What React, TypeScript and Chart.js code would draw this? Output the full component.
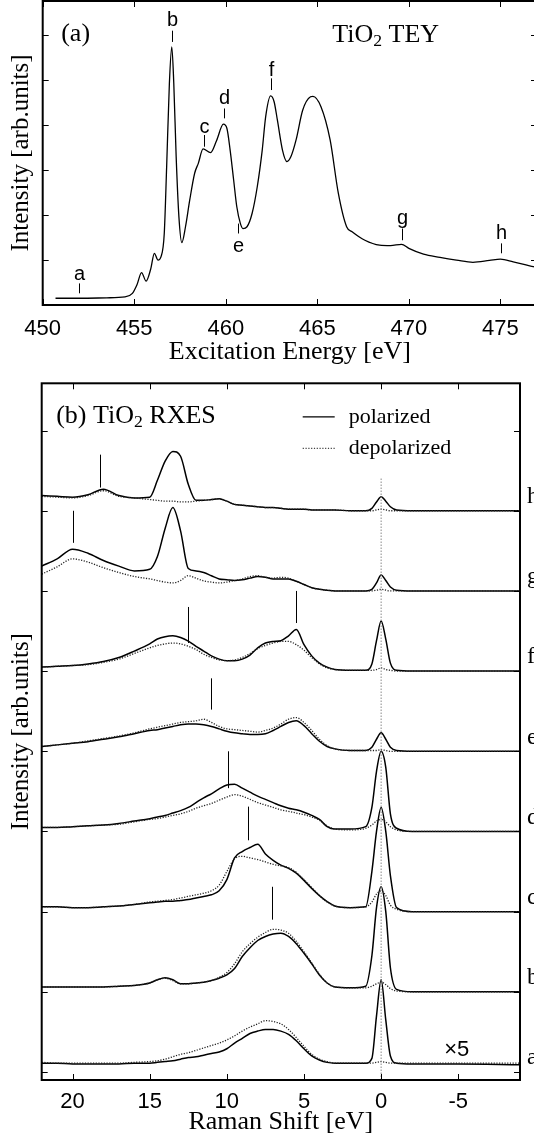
import React, { useEffect, useRef } from "react";
import { Chart, registerables } from "chart.js";
Chart.register(...registerables);

const SERIF = '"Liberation Serif", "Times New Roman", serif';
const SANS = '"Liberation Sans", Arial, sans-serif';

// ---------------- Panel (a): TiO2 TEY ----------------
const TEY_ENERGY = [450.7, 452.0, 453.5, 454.5, 454.9, 455.15, 455.4, 455.65, 455.9, 456.1, 456.3, 456.46, 456.64, 456.77, 456.92, 457.05, 457.16, 457.29, 457.44, 457.6, 457.8, 458.03, 458.3, 458.5, 458.76, 459.17, 459.5, 459.87, 460.06, 460.24, 460.43, 460.6, 460.8, 460.94, 461.16, 461.44, 461.72, 461.99, 462.18, 462.45, 462.64, 462.82, 463.1, 463.34, 463.56, 463.84, 464.2, 464.63, 464.76, 465.2, 465.7, 466.15, 466.6, 466.9, 467.6, 468.4, 469.0, 469.6, 470.0, 470.8, 471.7, 472.6, 473.5, 474.4, 475.0, 475.7, 476.6, 477.0];
const TEY_INTENSITY = [0.15, 0.15, 0.16, 0.18, 0.26, 0.45, 0.72, 0.53, 0.80, 1.15, 1.00, 1.07, 1.59, 3.07, 4.93, 5.74, 4.93, 3.30, 1.96, 1.39, 1.74, 2.33, 2.93, 3.15, 3.47, 3.39, 3.66, 4.02, 3.93, 3.44, 2.78, 2.19, 1.81, 1.70, 1.74, 2.04, 2.63, 3.44, 4.19, 4.65, 4.52, 4.11, 3.44, 3.19, 3.30, 3.67, 4.33, 4.63, 4.64, 4.41, 3.67, 2.48, 1.74, 1.63, 1.44, 1.33, 1.32, 1.35, 1.26, 1.13, 1.06, 1.00, 0.95, 0.99, 1.02, 0.96, 0.87, 0.84];
const TEY_X_TICKS = [450, 455, 460, 465, 470, 475];
const TEY_Y_TICKS = [1, 2, 3, 4, 5, 6];
const TEY_MARK_NAMES = ["a", "b", "c", "d", "e", "f", "g", "h"];
const TEY_MARK_ENERGY = [452.0, 457.05, 458.8, 459.9, 460.65, 462.45, 469.6, 475.05];
const TEY_MARK_LETTER_Y = [0.67, 6.33, 3.94, 4.59, 1.30, 5.22, 1.93, 1.59];
const TEY_MARK_FROM = [0.26, 5.85, 3.52, 4.15, 1.59, 4.78, 1.44, 1.15];
const TEY_MARK_TO = [0.48, 6.10, 3.78, 4.37, 1.81, 5.04, 1.70, 1.37];

// ---------------- Panel (b): TiO2 RXES ----------------
const SHIFT = [22, 21, 20, 19, 18, 17, 16, 15, 14.5, 14, 13.5, 13, 12.5, 12, 11.5, 11, 10.5, 10, 9.5, 9, 8.5, 8, 7.5, 7, 6.5, 6, 5.5, 5, 4.5, 4, 3.5, 3, 2, 1, 0.6, 0.3, 0, -0.3, -0.6, -1, -2, -5, -9];

const H_POL = [7.19, 7.18, 7.17, 7.20, 7.27, 7.19, 7.16, 7.17, 7.38, 7.62, 7.74, 7.68, 7.33, 7.13, 7.13, 7.14, 7.15, 7.12, 7.08, 7.07, 7.06, 7.05, 7.04, 7.04, 7.03, 7.02, 7.02, 7.02, 7.01, 7.01, 7.01, 7.01, 7.0, 7.0, 7.03, 7.11, 7.175, 7.12, 7.05, 7.01, 7.0, 7.0, 7.0];
const H_DEP = [7.18, 7.17, 7.16, 7.19, 7.25, 7.18, 7.16, 7.14, 7.13, 7.12, 7.12, 7.11, 7.11, 7.12, 7.13, 7.14, 7.15, 7.12, 7.08, 7.07, 7.06, 7.05, 7.04, 7.04, 7.03, 7.02, 7.02, 7.02, 7.01, 7.01, 7.01, 7.01, 7.0, 7.0, 7.0, 7.01, 7.02, 7.01, 7.0, 7.0, 7.0, 7.0, 7.0];
const G_POL = [6.31, 6.40, 6.52, 6.47, 6.38, 6.31, 6.25, 6.27, 6.43, 6.78, 7.04, 6.75, 6.28, 6.25, 6.23, 6.19, 6.15, 6.14, 6.13, 6.14, 6.16, 6.18, 6.17, 6.15, 6.15, 6.15, 6.12, 6.08, 6.04, 6.02, 6.01, 6.0, 6.0, 6.0, 6.02, 6.1, 6.2, 6.13, 6.05, 6.01, 6.0, 6.0, 6.0];
const G_DEP = [6.21, 6.30, 6.40, 6.36, 6.29, 6.23, 6.18, 6.15, 6.13, 6.11, 6.10, 6.13, 6.19, 6.16, 6.125, 6.11, 6.10, 6.11, 6.13, 6.15, 6.18, 6.19, 6.17, 6.16, 6.17, 6.16, 6.12, 6.08, 6.04, 6.02, 6.01, 6.0, 6.0, 6.0, 6.0, 6.01, 6.02, 6.01, 6.0, 6.0, 6.0, 6.0, 6.0];
const F_POL = [5.05, 5.06, 5.07, 5.09, 5.12, 5.17, 5.25, 5.34, 5.40, 5.43, 5.44, 5.42, 5.375, 5.31, 5.25, 5.19, 5.15, 5.13, 5.13, 5.15, 5.20, 5.29, 5.35, 5.37, 5.38, 5.44, 5.52, 5.33, 5.19, 5.10, 5.05, 5.02, 5.01, 5.01, 5.09, 5.38, 5.625, 5.40, 5.10, 5.01, 5.0, 5.0, 5.0];
const F_DEP = [5.05, 5.06, 5.07, 5.08, 5.11, 5.15, 5.22, 5.29, 5.32, 5.34, 5.35, 5.34, 5.31, 5.27, 5.21, 5.17, 5.14, 5.13, 5.14, 5.17, 5.22, 5.28, 5.32, 5.35, 5.37, 5.37, 5.33, 5.26, 5.17, 5.09, 5.04, 5.02, 5.01, 5.01, 5.01, 5.02, 5.04, 5.02, 5.01, 5.0, 5.0, 5.0, 5.0];
const E_POL = [4.06, 4.08, 4.10, 4.12, 4.15, 4.18, 4.22, 4.26, 4.27, 4.29, 4.31, 4.33, 4.34, 4.34, 4.33, 4.31, 4.28, 4.25, 4.23, 4.22, 4.21, 4.21, 4.22, 4.26, 4.31, 4.36, 4.38, 4.32, 4.22, 4.125, 4.06, 4.03, 4.01, 4.01, 4.05, 4.15, 4.23, 4.15, 4.05, 4.01, 4.0, 4.0, 4.0];
const E_DEP = [4.06, 4.08, 4.10, 4.13, 4.16, 4.19, 4.23, 4.28, 4.30, 4.32, 4.34, 4.36, 4.37, 4.38, 4.40, 4.36, 4.31, 4.28, 4.27, 4.26, 4.25, 4.24, 4.26, 4.29, 4.34, 4.40, 4.42, 4.36, 4.26, 4.15, 4.07, 4.03, 4.01, 4.01, 4.01, 4.01, 4.02, 4.01, 4.0, 4.0, 4.0, 4.0, 4.0];
const D_POL = [3.05, 3.05, 3.06, 3.07, 3.08, 3.10, 3.13, 3.16, 3.18, 3.20, 3.23, 3.26, 3.30, 3.36, 3.42, 3.47, 3.53, 3.58, 3.59, 3.54, 3.49, 3.44, 3.40, 3.36, 3.32, 3.29, 3.27, 3.24, 3.20, 3.15, 3.06, 3.03, 3.03, 3.06, 3.30, 3.75, 4.0, 3.80, 3.22, 3.04, 3.0, 3.0, 3.0];
const D_DEP = [3.05, 3.05, 3.06, 3.07, 3.08, 3.09, 3.12, 3.15, 3.16, 3.18, 3.20, 3.22, 3.25, 3.29, 3.32, 3.35, 3.39, 3.43, 3.46, 3.44, 3.40, 3.36, 3.33, 3.30, 3.27, 3.25, 3.23, 3.21, 3.18, 3.14, 3.07, 3.03, 3.02, 3.04, 3.08, 3.13, 3.15, 3.12, 3.06, 3.02, 3.0, 3.0, 3.0];
const C_POL = [2.06, 2.06, 2.05, 2.05, 2.06, 2.07, 2.09, 2.11, 2.12, 2.13, 2.13, 2.14, 2.15, 2.17, 2.19, 2.21, 2.26, 2.40, 2.67, 2.75, 2.80, 2.84, 2.72, 2.64, 2.58, 2.54, 2.48, 2.39, 2.29, 2.20, 2.125, 2.07, 2.05, 2.06, 2.5, 3.0, 3.3, 3.0, 2.45, 2.05, 2.0, 2.0, 2.0];
const C_DEP = [2.06, 2.06, 2.05, 2.05, 2.06, 2.07, 2.09, 2.12, 2.13, 2.14, 2.15, 2.17, 2.19, 2.21, 2.23, 2.26, 2.33, 2.50, 2.66, 2.69, 2.67, 2.65, 2.62, 2.59, 2.57, 2.55, 2.49, 2.40, 2.30, 2.20, 2.12, 2.07, 2.05, 2.06, 2.12, 2.22, 2.26, 2.20, 2.08, 2.03, 2.0, 2.0, 2.0];
const B_POL = [1.06, 1.06, 1.06, 1.06, 1.06, 1.07, 1.08, 1.11, 1.15, 1.175, 1.15, 1.10, 1.10, 1.11, 1.12, 1.14, 1.17, 1.21, 1.29, 1.44, 1.55, 1.64, 1.69, 1.72, 1.73, 1.69, 1.60, 1.48, 1.35, 1.21, 1.11, 1.06, 1.05, 1.07, 1.45, 2.05, 2.31, 2.0, 1.3, 1.03, 1.0, 1.0, 1.0];
const B_DEP = [1.06, 1.06, 1.06, 1.06, 1.06, 1.07, 1.08, 1.11, 1.15, 1.17, 1.14, 1.10, 1.10, 1.11, 1.12, 1.14, 1.18, 1.24, 1.35, 1.50, 1.60, 1.68, 1.74, 1.78, 1.77, 1.73, 1.63, 1.50, 1.36, 1.22, 1.11, 1.06, 1.05, 1.05, 1.07, 1.10, 1.12, 1.09, 1.04, 1.01, 1.0, 1.0, 1.0];
const A_POL = [0.11, 0.11, 0.10, 0.10, 0.10, 0.10, 0.11, 0.11, 0.12, 0.13, 0.14, 0.16, 0.18, 0.19, 0.21, 0.23, 0.25, 0.29, 0.36, 0.42, 0.48, 0.51, 0.53, 0.53, 0.51, 0.47, 0.39, 0.29, 0.20, 0.15, 0.12, 0.11, 0.11, 0.11, 0.17, 0.70, 1.15, 0.65, 0.20, 0.11, 0.10, 0.10, 0.09];
const A_DEP = [0.12, 0.11, 0.11, 0.11, 0.11, 0.11, 0.12, 0.13, 0.14, 0.16, 0.19, 0.22, 0.24, 0.27, 0.30, 0.33, 0.36, 0.40, 0.45, 0.51, 0.56, 0.60, 0.64, 0.63, 0.60, 0.53, 0.43, 0.32, 0.22, 0.16, 0.13, 0.11, 0.11, 0.11, 0.11, 0.12, 0.13, 0.12, 0.11, 0.11, 0.11, 0.11, 0.11];

const RXES_NAMES = ["a", "b", "c", "d", "e", "f", "g", "h"];
const RXES_BASELINES = [0, 1, 2, 3, 4, 5, 6, 7];
const RXES_POL = [A_POL, B_POL, C_POL, D_POL, E_POL, F_POL, G_POL, H_POL];
const RXES_DEP = [A_DEP, B_DEP, C_DEP, D_DEP, E_DEP, F_DEP, G_DEP, H_DEP];
const RXES_MARK_SHIFT = [18.2, 20.0, 12.5, 5.5, 11.0, 9.9, 8.6, 7.07];
const RXES_MARK_FROM = [7.29, 6.6, 5.35, 5.6, 4.52, 3.54, 2.89, 1.90];
const RXES_MARK_TO = [7.70, 7.0, 5.80, 6.0, 4.91, 4.0, 3.31, 2.31];
const RXES_X_TICKS = [20, 15, 10, 5, 0, -5];
const RXES_Y_TICKS = [0, 1, 2, 3, 4, 5, 6, 7, 8];
const ZERO_LINE_Y = [-0.1, 7.41];
const X5_POS = [-4.9, 0.27];

// ---------------- drawing helpers ----------------
function seg(ctx: CanvasRenderingContext2D, x1: number, y1: number, x2: number, y2: number) {
  ctx.beginPath();
  ctx.moveTo(x1, y1);
  ctx.lineTo(x2, y2);
  ctx.stroke();
}

function richText(ctx: CanvasRenderingContext2D, x: number, y: number, parts: { t: string; sub?: boolean }[], size: number) {
  let cx = x;
  ctx.textAlign = "left";
  ctx.textBaseline = "middle";
  for (const p of parts) {
    const s = p.sub ? size * 0.68 : size;
    ctx.font = `${s}px ${SERIF}`;
    ctx.fillText(p.t, cx, p.sub ? y + size * 0.24 : y);
    cx += ctx.measureText(p.t).width;
  }
}

function frameAndTicks(chart: any, xTicks: number[], yTicks: number[]) {
  const { ctx, chartArea: ca, scales } = chart;
  const len = 6;
  ctx.strokeStyle = "#000";
  ctx.lineWidth = 1;
  ctx.setLineDash([]);
  for (const v of xTicks) {
    const px = Math.round(scales.x.getPixelForValue(v)) + 0.5;
    seg(ctx, px, ca.bottom, px, ca.bottom - len);
    seg(ctx, px, ca.top, px, ca.top + len);
  }
  for (const v of yTicks) {
    const py = Math.round(scales.y.getPixelForValue(v)) + 0.5;
    seg(ctx, ca.left, py, ca.left + len, py);
    seg(ctx, ca.right, py, ca.right - len, py);
  }
  ctx.lineWidth = 2;
  ctx.strokeRect(ca.left, ca.top, ca.right - ca.left, ca.bottom - ca.top);
}

const teyDecor = {
  id: "teyDecor",
  afterDatasetsDraw(chart: any) {
    const { ctx, chartArea: ca, scales } = chart;
    const { x, y } = scales;
    ctx.save();
    ctx.fillStyle = "#000";
    ctx.strokeStyle = "#000";
    ctx.lineWidth = 1;
    ctx.font = `20px ${SANS}`;
    ctx.textAlign = "center";
    ctx.textBaseline = "middle";
    TEY_MARK_NAMES.forEach((n, i) => {
      const px = Math.round(x.getPixelForValue(TEY_MARK_ENERGY[i])) + 0.5;
      seg(ctx, px, y.getPixelForValue(TEY_MARK_FROM[i]), px, y.getPixelForValue(TEY_MARK_TO[i]));
      ctx.fillText(n, px, y.getPixelForValue(TEY_MARK_LETTER_Y[i]));
    });
    ctx.font = `26px ${SERIF}`;
    ctx.textAlign = "left";
    ctx.fillText("(a)", ca.left + 18.5, ca.top + 33);
    richText(ctx, ca.left + 289.5, ca.top + 34, [{ t: "TiO" }, { t: "2", sub: true }, { t: " TEY" }], 26);
    frameAndTicks(chart, TEY_X_TICKS, TEY_Y_TICKS);
    ctx.restore();
  },
};

const rxesDecor = {
  id: "rxesDecor",
  afterDatasetsDraw(chart: any) {
    const { ctx, chartArea: ca, scales } = chart;
    const { x, y } = scales;
    ctx.save();
    ctx.fillStyle = "#000";
    ctx.strokeStyle = "#000";
    ctx.lineWidth = 1;
    RXES_MARK_SHIFT.forEach((s, i) => {
      const px = Math.round(x.getPixelForValue(s)) + 0.5;
      seg(ctx, px, y.getPixelForValue(RXES_MARK_FROM[i]), px, y.getPixelForValue(RXES_MARK_TO[i]));
    });
    // legend
    const ly1 = ca.top + 33.5;
    const ly2 = ca.top + 65;
    ctx.lineWidth = 1.2;
    seg(ctx, ca.left + 261, ly1, ca.left + 293, ly1);
    ctx.setLineDash([1.2, 1.6]);
    ctx.strokeStyle = "#444";
    seg(ctx, ca.left + 261, ly2, ca.left + 293, ly2);
    ctx.setLineDash([]);
    ctx.strokeStyle = "#000";
    ctx.font = `22px ${SERIF}`;
    ctx.textAlign = "left";
    ctx.textBaseline = "middle";
    ctx.fillText("polarized", ca.left + 307, ly1);
    ctx.fillText("depolarized", ca.left + 307, ly2);
    richText(ctx, ca.left + 14.5, ca.top + 33, [{ t: "(b) TiO" }, { t: "2", sub: true }, { t: " RXES" }], 26);
    // spectrum names at right
    ctx.font = `24px ${SERIF}`;
    ctx.textAlign = "left";
    ctx.textBaseline = "middle";
    RXES_NAMES.forEach((n, i) => {
      ctx.fillText(n, ca.right + 7, y.getPixelForValue(RXES_BASELINES[i]) - 14);
    });
    // x5
    ctx.font = `22px ${SANS}`;
    ctx.textAlign = "center";
    ctx.fillText("\u00d75", x.getPixelForValue(X5_POS[0]), y.getPixelForValue(X5_POS[1]));
    frameAndTicks(chart, RXES_X_TICKS, RXES_Y_TICKS);
    ctx.restore();
  },
};

function teyConfig(): any {
  return {
    type: "line",
    data: {
      datasets: [
        {
          data: TEY_ENERGY.map((e, i) => ({ x: e, y: TEY_INTENSITY[i] })),
          borderColor: "#000",
          borderWidth: 1.3,
          pointRadius: 0,
          fill: false,
          cubicInterpolationMode: "monotone",
        },
      ],
    },
    options: {
      responsive: false,
      animation: false,
      devicePixelRatio: 1,
      layout: { padding: { top: 1, right: 8, left: 0, bottom: 0 } },
      plugins: { legend: { display: false }, tooltip: { enabled: false } },
      scales: {
        x: {
          type: "linear",
          min: 450,
          max: 477,
          grid: { display: false, drawTicks: false },
          border: { display: false },
          afterBuildTicks: (s: any) => {
            s.ticks = TEY_X_TICKS.map((v) => ({ value: v }));
          },
          afterFit: (s: any) => {
            s.height = 71;
          },
          ticks: { font: { family: SANS, size: 22 }, color: "#000", padding: 11, maxRotation: 0, autoSkip: false, callback: (v: any) => String(v) },
          title: { display: true, text: "Excitation Energy [eV]", font: { family: SERIF, size: 26 }, color: "#000", padding: { top: 0, bottom: 8 } },
        },
        y: {
          type: "linear",
          min: 0,
          max: 6.76,
          grid: { display: false, drawTicks: false },
          border: { display: false },
          ticks: { display: false },
          afterFit: (s: any) => {
            s.width = 42.7;
          },
          title: { display: true, text: "Intensity [arb.units]", font: { family: SERIF, size: 25 }, color: "#000", padding: { top: 6, bottom: 0 } },
        },
      },
    },
    plugins: [teyDecor],
  };
}

function rxesConfig(): any {
  const datasets: any[] = [];
  datasets.push({
    data: ZERO_LINE_Y.map((v) => ({ x: 0, y: v })),
    borderColor: "#8a8a8a",
    borderWidth: 1,
    borderDash: [1.5, 1.5],
    pointRadius: 0,
    fill: false,
    tension: 0,
  });
  RXES_DEP.forEach((arr) => {
    datasets.push({
      data: SHIFT.map((s, i) => ({ x: s, y: arr[i] })),
      borderColor: "#222",
      borderWidth: 1.3,
      borderDash: [1.2, 1.5],
      pointRadius: 0,
      fill: false,
      cubicInterpolationMode: "monotone",
    });
  });
  RXES_POL.forEach((arr) => {
    datasets.push({
      data: SHIFT.map((s, i) => ({ x: s, y: arr[i] })),
      borderColor: "#000",
      borderWidth: 1.5,
      pointRadius: 0,
      fill: false,
      cubicInterpolationMode: "monotone",
    });
  });
  return {
    type: "line",
    data: { datasets },
    options: {
      responsive: false,
      animation: false,
      devicePixelRatio: 1,
      layout: { padding: { top: 7.3, right: 14, left: 0, bottom: 0 } },
      plugins: { legend: { display: false }, tooltip: { enabled: false } },
      scales: {
        x: {
          type: "linear",
          min: -9,
          max: 22,
          reverse: true,
          grid: { display: false, drawTicks: false },
          border: { display: false },
          afterBuildTicks: (s: any) => {
            s.ticks = RXES_X_TICKS.map((v) => ({ value: v }));
          },
          afterFit: (s: any) => {
            s.height = 59;
          },
          ticks: { font: { family: SANS, size: 22 }, color: "#000", padding: 9, maxRotation: 0, autoSkip: false, callback: (v: any) => String(v) },
          title: { display: true, text: "Raman Shift [eV]", font: { family: SERIF, size: 26 }, color: "#000", padding: { top: 0, bottom: 1 } },
        },
        y: {
          type: "linear",
          min: -0.1,
          max: 8.59,
          grid: { display: false, drawTicks: false },
          border: { display: false },
          ticks: { display: false },
          afterFit: (s: any) => {
            s.width = 41.7;
          },
          title: { display: true, text: "Intensity [arb.units]", font: { family: SERIF, size: 25 }, color: "#000", padding: { top: 6, bottom: 0 } },
        },
      },
    },
    plugins: [rxesDecor],
  };
}

export default function App() {
  const refA = useRef<HTMLCanvasElement>(null);
  const refB = useRef<HTMLCanvasElement>(null);
  useEffect(() => {
    const a = new Chart(refA.current as HTMLCanvasElement, teyConfig());
    const b = new Chart(refB.current as HTMLCanvasElement, rxesConfig());
    return () => {
      a.destroy();
      b.destroy();
    };
  }, []);
  return (
    <div style={{ position: "absolute", left: 0, top: 0, width: 534, height: 1139, overflow: "hidden", background: "#fff" }}>
      <canvas ref={refA} width={545} height={376} style={{ position: "absolute", left: 0, top: 0, width: 545, height: 376 }} />
      <canvas ref={refB} width={534} height={763} style={{ position: "absolute", left: 0, top: 376, width: 534, height: 763 }} />
    </div>
  );
}
